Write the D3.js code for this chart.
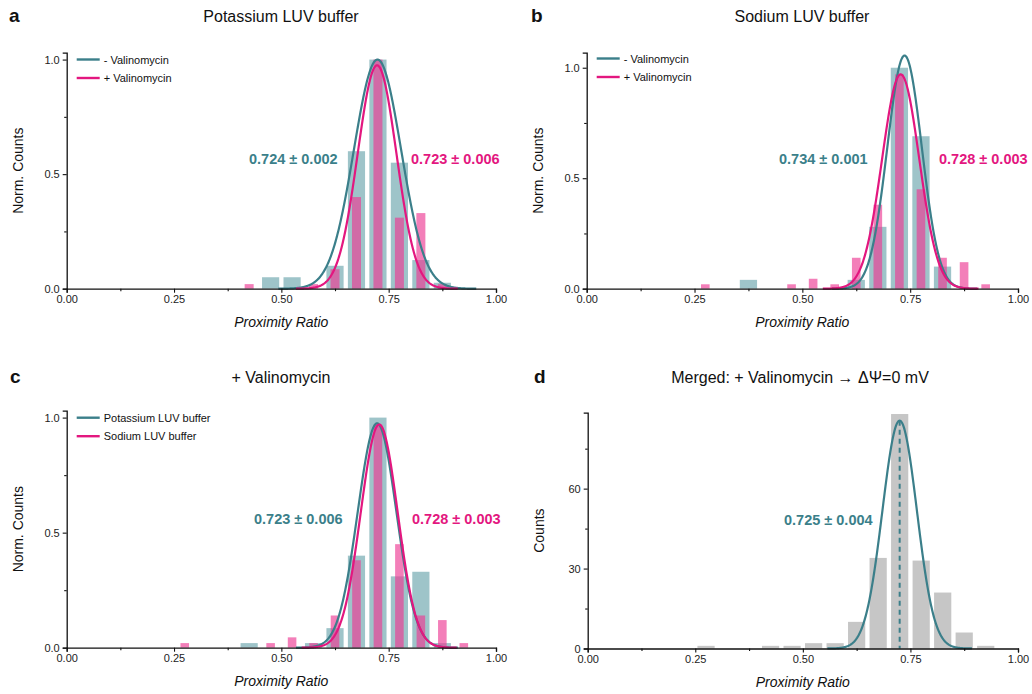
<!DOCTYPE html>
<html>
<head>
<meta charset="utf-8">
<script src="https://cdn.jsdelivr.net/npm/d3@7"></script>
<style>
  html, body { margin: 0; padding: 0; background: #fff; }
  svg { display: block; font-family: "Liberation Sans", Arial, sans-serif; }
</style>
</head>
<body>
<svg id="chart" width="1032" height="694"></svg>
<script>
// ---------------- DATA ----------------
const bins = [0.275, 0.325, 0.375, 0.425, 0.475, 0.525, 0.575, 0.625, 0.675, 0.725, 0.775, 0.825, 0.875, 0.925];
// normalized counts
const kMinusVal = [0, 0, 0, 0, 0.05, 0.05, 0, 0.10, 0.60, 1.00, 0.55, 0.125, 0.026, 0];
const kPlusVal  = [0, 0, 0, 0.02, 0, 0, 0.02, 0.085, 0.40, 1.00, 0.31, 0.33, 0.02, 0];
const naMinusVal = [0, 0, 0.04, 0, 0, 0, 0, 0.04, 0.28, 1.00, 0.69, 0.10, 0, 0];
const naPlusVal  = [0.02, 0, 0, 0, 0.02, 0.045, 0.02, 0.14, 0.38, 0.97, 0.45, 0.14, 0.12, 0.02];
// merged counts
const mergedCounts = [1, 0, 0, 1, 1, 2, 2, 10, 34, 88, 33, 21, 6, 1];

// Gaussian fits: [mean, amplitude, sigma]
const fitKMinus = [0.724, 1.00, 0.055];
const fitKPlus  = [0.723, 0.975, 0.045];
const fitNaMinus = [0.737, 1.055, 0.040];
const fitNaPlus  = [0.728, 0.97, 0.043];
const fitMerged  = [0.725, 85.5, 0.040];

const panelTitles = ["Potassium LUV buffer", "Sodium LUV buffer", "+ Valinomycin", "Merged: + Valinomycin \u2192 \u0394\u03A8=0 mV"];
const panelLetters = ["a", "b", "c", "d"];
const xTicks = [0, 0.25, 0.5, 0.75, 1.0];
const xMinorTicks = [0.125, 0.375, 0.625, 0.875];
const yTicksNorm = [0, 0.5, 1.0];
const yMinorNorm = [0.25, 0.75];
const yTicksCounts = [0, 30, 60];
const yMinorCounts = [15, 45, 75];

// ---------------- STYLE ----------------
const TEAL = "#3b7f8a";
const PINK = "#e3177f";
const TEAL_BAR = "#3d8a94";
const PINK_BAR = "#ec3b93";
const GRAY_BAR = "#c6c6c6";

const svg = d3.select("#chart");

function gaussPath(x, y, fit) {
  const [mu, a, s] = fit;
  const pts = d3.range(mu - 4.2 * s, mu + 4.2 * s, 0.001).map(v => [v, a * Math.exp(-0.5 * ((v - mu) / s) ** 2)]);
  return d3.line().x(d => x(d[0])).y(d => y(d[1]))(pts);
}

function drawPanel(cfg) {
  const g = svg.append("g");
  const x = d3.scaleLinear().domain([0, 1]).range([cfg.left, cfg.right]);
  const y = d3.scaleLinear().domain([0, cfg.ymax]).range([cfg.bottom, cfg.top]);

  // bars
  cfg.bars.forEach(b => {
    g.append("g").selectAll("rect")
      .data(bins.map((c, i) => ({ c, v: b.values[i] })).filter(d => d.v > 0))
      .join("rect")
      .attr("x", d => x(d.c - b.width / 2))
      .attr("width", d => x(b.width) - x(0))
      .attr("y", d => y(d.v))
      .attr("height", d => y(0) - y(d.v))
      .attr("fill", b.color)
      .attr("fill-opacity", b.opacity);
  });

  // fit curves
  cfg.fits.forEach(f => {
    g.append("path").attr("d", gaussPath(x, y, f.fit))
      .attr("fill", "none").attr("stroke", f.color).attr("stroke-width", 2.2);
  });

  if (cfg.dashed) {
    const [mu, a] = cfg.dashed;
    g.append("line")
      .attr("x1", x(mu)).attr("x2", x(mu)).attr("y1", y(a)).attr("y2", y(0))
      .attr("stroke", TEAL).attr("stroke-width", 2).attr("stroke-dasharray", "5,4");
  }

  // axes
  const xAxis = d3.axisBottom(x).tickValues(xTicks).tickFormat(d3.format(".2f")).tickSize(4).tickPadding(3);
  const gx = g.append("g").attr("transform", `translate(0,${cfg.bottom})`).call(xAxis);
  g.append("g").attr("transform", `translate(0,${cfg.bottom})`)
    .call(d3.axisBottom(x).tickValues(xMinorTicks).tickFormat("").tickSize(2.5))
    .select(".domain").remove();
  const yAxis = d3.axisLeft(y).tickValues(cfg.yTicks).tickFormat(cfg.yFormat).tickSize(4).tickPadding(3);
  const gy = g.append("g").attr("transform", `translate(${cfg.left},0)`).call(yAxis);
  g.append("g").attr("transform", `translate(${cfg.left},0)`)
    .call(d3.axisLeft(y).tickValues(cfg.yMinor).tickFormat("").tickSize(2.5))
    .select(".domain").remove();
  g.selectAll(".domain").attr("stroke", "#111").attr("stroke-width", 1.3);
  g.selectAll(".tick line").attr("stroke", "#111").attr("stroke-width", 1.1);
  g.selectAll(".tick text").attr("font-size", 11).attr("fill", "#222")
    .attr("font-family", '"Liberation Sans", Arial, sans-serif');

  // axis labels
  g.append("text").attr("x", (cfg.left + cfg.right) / 2).attr("y", cfg.bottom + 38)
    .attr("text-anchor", "middle").attr("font-size", 14).attr("font-style", "italic").attr("fill", "#111")
    .text("Proximity Ratio");
  g.append("text")
    .attr("transform", `translate(${cfg.left - 44},${(cfg.top + cfg.bottom) / 2}) rotate(-90)`)
    .attr("text-anchor", "middle").attr("font-size", 14).attr("fill", "#111")
    .text(cfg.yLabel);

  // title and letter
  g.append("text").attr("x", cfg.titleX).attr("y", cfg.titleY).attr("text-anchor", "middle")
    .attr("font-size", 16).attr("fill", "#111").text(cfg.title);
  g.append("text").attr("x", cfg.letterX).attr("y", cfg.titleY).attr("font-size", 19)
    .attr("font-weight", "bold").attr("fill", "#111").text(cfg.letter);

  // legend
  if (cfg.legend) {
    cfg.legend.forEach((l, i) => {
      const ly = cfg.legendY + i * 18.5;
      g.append("line").attr("x1", cfg.left + 10).attr("x2", cfg.left + 33)
        .attr("y1", ly).attr("y2", ly).attr("stroke", l.color).attr("stroke-width", 2.4);
      g.append("text").attr("x", cfg.left + 37).attr("y", ly + 4).attr("font-size", 11)
        .attr("fill", "#111").text(l.label);
    });
  }

  // annotations
  cfg.notes.forEach(n => {
    g.append("text").attr("x", n.x).attr("y", n.y).attr("font-size", 14.5).attr("font-weight", "bold")
      .attr("fill", n.color).text(n.text);
  });
}

drawPanel({
  left: 66.7, right: 496, top: 52.7, bottom: 288.7, ymax: 1.03,
  yTicks: yTicksNorm, yMinor: yMinorNorm, yFormat: d3.format(".1f"), yLabel: "Norm. Counts",
  bars: [
    { values: kMinusVal, color: TEAL_BAR, opacity: 0.5, width: 0.04 },
    { values: kPlusVal, color: PINK_BAR, opacity: 0.65, width: 0.021 }
  ],
  fits: [{ fit: fitKMinus, color: TEAL }, { fit: fitKPlus, color: PINK }],
  title: panelTitles[0], titleX: 281, titleY: 22, letter: panelLetters[0], letterX: 9,
  legend: [{ label: "- Valinomycin", color: TEAL }, { label: "+ Valinomycin", color: PINK }], legendY: 59.5,
  notes: [
    { x: 249, y: 164, text: "0.724 \u00B1 0.002", color: TEAL },
    { x: 411, y: 164, text: "0.723 \u00B1 0.006", color: PINK }
  ]
});

drawPanel({
  left: 586.7, right: 1018, top: 52.7, bottom: 288.7, ymax: 1.068,
  yTicks: yTicksNorm, yMinor: yMinorNorm, yFormat: d3.format(".1f"), yLabel: "Norm. Counts",
  bars: [
    { values: naMinusVal, color: TEAL_BAR, opacity: 0.5, width: 0.04 },
    { values: naPlusVal, color: PINK_BAR, opacity: 0.65, width: 0.02 }
  ],
  fits: [{ fit: fitNaMinus, color: TEAL }, { fit: fitNaPlus, color: PINK }],
  title: panelTitles[1], titleX: 802, titleY: 22, letter: panelLetters[1], letterX: 531,
  legend: [{ label: "- Valinomycin", color: TEAL }, { label: "+ Valinomycin", color: PINK }], legendY: 58.5,
  notes: [
    { x: 779, y: 164, text: "0.734 \u00B1 0.001", color: TEAL },
    { x: 939, y: 164, text: "0.728 \u00B1 0.003", color: PINK }
  ]
});

drawPanel({
  left: 66.7, right: 496, top: 410.7, bottom: 647.7, ymax: 1.03,
  yTicks: yTicksNorm, yMinor: yMinorNorm, yFormat: d3.format(".1f"), yLabel: "Norm. Counts",
  bars: [
    { values: kPlusVal, color: TEAL_BAR, opacity: 0.5, width: 0.04 },
    { values: naPlusVal, color: PINK_BAR, opacity: 0.65, width: 0.02 }
  ],
  fits: [{ fit: fitKPlus, color: TEAL }, { fit: fitNaPlus, color: PINK }],
  title: panelTitles[2], titleX: 281, titleY: 383, letter: panelLetters[2], letterX: 10,
  legend: [{ label: "Potassium LUV buffer", color: TEAL }, { label: "Sodium LUV buffer", color: PINK }], legendY: 417.7,
  notes: [
    { x: 254, y: 524, text: "0.723 \u00B1 0.006", color: TEAL },
    { x: 412, y: 524, text: "0.728 \u00B1 0.003", color: PINK }
  ]
});

drawPanel({
  left: 587.7, right: 1018, top: 412.7, bottom: 648.5, ymax: 88.5,
  yTicks: yTicksCounts, yMinor: yMinorCounts, yFormat: d3.format("d"), yLabel: "Counts",
  bars: [{ values: mergedCounts, color: GRAY_BAR, opacity: 1, width: 0.04 }],
  fits: [{ fit: fitMerged, color: TEAL }],
  dashed: [fitMerged[0], fitMerged[1]],
  title: panelTitles[3], titleX: 800, titleY: 383, letter: panelLetters[3], letterX: 534,
  legend: null,
  notes: [{ x: 784, y: 525, text: "0.725 \u00B1 0.004", color: TEAL }]
});
</script>
</body>
</html>
